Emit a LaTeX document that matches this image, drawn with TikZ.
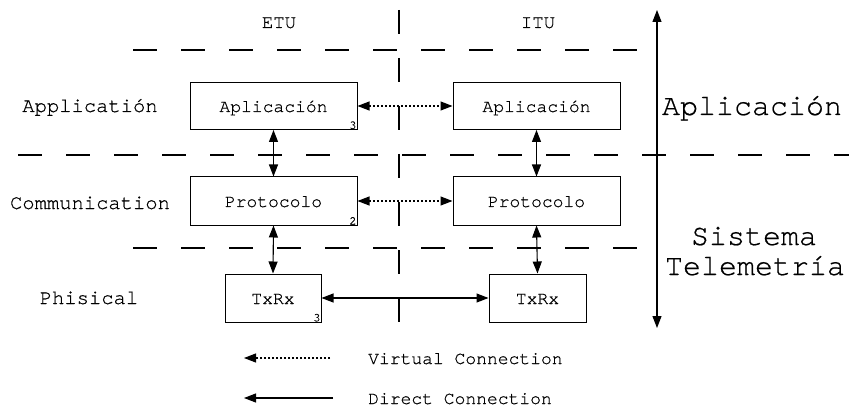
\documentclass[tikz,border=0pt]{standalone}
\usepackage{fontspec}
\setmainfont{TeX Gyre Cursor}[FakeBold=0.6]
\usetikzlibrary{arrows.meta}
\tikzset{
  every picture/.style={x=1pt,y=-1pt},
  box/.style={draw,line width=1pt,minimum height=47pt,inner sep=0pt,
    text height=12pt,text depth=0pt,font=\fontsize{18}{20}\selectfont},
  lbl/.style={anchor=base,inner sep=0pt,font=\fontsize{20.5}{23}\selectfont},
  biglbl/.style={anchor=base,inner sep=0pt,font=\fontsize{30}{33}\selectfont},
  legtxt/.style={anchor=base west,inner sep=0pt,font=\fontsize{18}{20}\selectfont},
  num/.style={anchor=south east,inner sep=0.8pt,font=\fontsize{12}{12}\selectfont},
  layer/.style={line width=1.1pt,dash pattern=on 24pt off 24pt},
  tip/.tip={Triangle[length=12pt,width=9pt]},
  dir/.style={line width=1.1pt,tip-tip},
  virt/.style={line width=1.1pt,dash pattern=on 2pt off 2pt,tip-tip},
}
\begin{document}
\begin{tikzpicture}
\useasboundingbox (0,0) rectangle (849,409);
% layer separators
\draw[layer] (133,50) -- (637,50);
\draw[layer] (18,155) -- (849,155);
\draw[layer] (133,248) -- (637,248);
\draw[layer] (399,10) -- (399,323);
% column headings
\node[lbl,font=\fontsize{19}{21}\selectfont] (etu) at (279,28) {ETU};
\node[lbl,font=\fontsize{19}{21}\selectfont] (itu) at (538,28) {ITU};
% row labels
\node[lbl] (lapp) at (90,112) {Applicatión};
\node[lbl] (lcom) at (90,209) {Communication};
\node[lbl] (lphy) at (89,304) {Phisical};
% boxes
\node[box,minimum width=167pt] (ae) at (273.5,106) {Aplicación};
\node[box,minimum width=167pt] (ai) at (536.5,106) {Aplicación};
\node[box,minimum width=167pt,minimum height=48pt] (pe) at (273.5,201) {Protocolo};
\node[box,minimum width=167pt,minimum height=48pt] (pi) at (536.5,201) {Protocolo};
\node[box,minimum width=96pt,minimum height=48pt] (te) at (273,298) {TxRx};
\node[box,minimum width=97pt,minimum height=48pt] (ti) at (537.5,298) {TxRx};
\node[num] (n1) at (ae.south east) {3};
\node[num] (n2) at (pe.south east) {2};
\node[num] (n3) at (te.south east) {3};
% connections
\draw[dir] (ae.south) -- (pe.north);
\draw[dir] (ai.south) -- (pi.north);
\draw[dir] (pe.south) -- (te.north);
\draw[dir] (pi.south) -- (ti.north);
\draw[virt] (ae.east) -- (ai.west);
\draw[virt] (pe.east) -- (pi.west);
\draw[dir] (te.east) -- (ti.west);
% right side
\coordinate (rtop) at (657,10);
\coordinate (rbot) at (657,328);
\draw[dir] (rtop) -- (rbot);
\node[biglbl] (bapp) at (752,115) {Aplicación};
\node[biglbl] (bsis) at (754,245) {Sistema};
\node[biglbl] (btel) at (755,275) {Telemetría};
% legend
\coordinate (v1) at (330,358);
\coordinate (v2) at (244,358);
\coordinate (d1) at (333,398);
\coordinate (d2) at (244,398);
\draw[line width=1.1pt,dash pattern=on 2pt off 2pt,-tip] (v1) -- (v2);
\draw[line width=1.1pt,-tip] (d1) -- (d2);
\node[legtxt] (lv) at (368,364) {Virtual Connection};
\node[legtxt] (ld) at (368,404) {Direct Connection};
\end{tikzpicture}
\end{document}
